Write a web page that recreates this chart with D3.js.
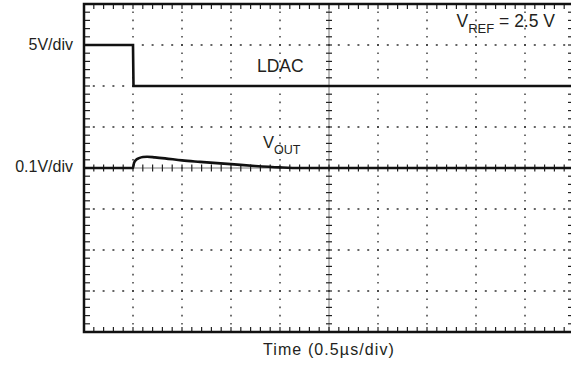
<!DOCTYPE html>
<html>
<head>
<meta charset="utf-8">
<script src="https://cdn.jsdelivr.net/npm/d3@7"></script>
<style>
  body { margin: 0; background: #fff; }
  text { font-family: "Liberation Sans", Arial, Helvetica, sans-serif; fill: #231f20; }
</style>
</head>
<body>
<svg id="scope" width="571" height="373"></svg>
<script>
// time axis in microseconds (0.5 us/div, 10 div), LDAC in volts, VOUT in mV
var ldacTime  = [0, 0.5, 0.505, 5];
var ldacVolts = [5, 5, 0, 0];
var voutTime  = [0, 0.5, 0.51, 0.531, 0.561, 0.602, 0.643, 0.724, 0.827, 1.0, 1.184, 1.5, 1.745, 2.0, 2.204, 5];
var voutMv    = [0, 0, 12, 20, 24, 27, 27.5, 26, 23.5, 18.5, 15, 9.5, 5, 1.5, 0, 0];
var yLabels   = ["5V/div", "0.1V/div"];

var margin = { top: 4, left: 84 };
var divW = 49, divH = 41;
var nx = 10, ny = 8;
var width = nx * divW, height = ny * divH;

var svg = d3.select("#scope");

var x = d3.scaleLinear().domain([0, 5]).range([margin.left, margin.left + width]);
var yLdac = d3.scaleLinear().domain([-30, 10]).range([margin.top + height, margin.top]);
var yVout = d3.scaleLinear().domain([-400, 400]).range([margin.top + height, margin.top]);
var gx = d3.scaleLinear().domain([0, nx]).range([margin.left, margin.left + width]);
var gy = d3.scaleLinear().domain([0, ny]).range([margin.top, margin.top + height]);

var grid = svg.append("g").attr("class", "grid");

// dotted divisions (centre ones are drawn as axes)
grid.selectAll(".vgrid")
  .data(d3.range(1, nx).filter(i => i != nx / 2))
  .enter().append("line")
  .attr("x1", d => gx(d)).attr("x2", d => gx(d))
  .attr("y1", gy(0)).attr("y2", gy(ny))
  .attr("stroke", "#333").attr("stroke-width", 1.4)
  .attr("stroke-dasharray", "1.6 " + (divH / 5 - 1.6))
  .attr("stroke-dashoffset", 0.8);

grid.selectAll(".hgrid")
  .data(d3.range(1, ny).filter(j => j != ny / 2))
  .enter().append("line")
  .attr("y1", d => gy(d)).attr("y2", d => gy(d))
  .attr("x1", gx(0)).attr("x2", gx(nx))
  .attr("stroke", "#333").attr("stroke-width", 1.4)
  .attr("stroke-dasharray", "2 " + (divW / 5 - 2))
  .attr("stroke-dashoffset", 1);

// centre axes with minor ticks
var cx = gx(nx / 2), cy = gy(ny / 2);
grid.append("line")
  .attr("x1", cx).attr("x2", cx).attr("y1", gy(0)).attr("y2", gy(ny))
  .attr("stroke", "#555").attr("stroke-width", 0.8);
grid.append("line")
  .attr("y1", cy).attr("y2", cy).attr("x1", gx(0)).attr("x2", gx(nx))
  .attr("stroke", "#555").attr("stroke-width", 0.8);

var minorX = d3.range(1, nx * 5);
var minorY = d3.range(1, ny * 5);

grid.selectAll(".cxtick").data(minorY).enter().append("line")
  .attr("x1", cx - 3).attr("x2", cx + 3)
  .attr("y1", d => gy(d / 5)).attr("y2", d => gy(d / 5))
  .attr("stroke", "#222").attr("stroke-width", 1.2);
grid.selectAll(".cytick").data(minorX).enter().append("line")
  .attr("y1", cy - 3.5).attr("y2", cy + 3.5)
  .attr("x1", d => gx(d / 5)).attr("x2", d => gx(d / 5))
  .attr("stroke", "#222").attr("stroke-width", 1.2);

// frame ticks, pointing inwards
var frame = svg.append("g").attr("class", "frame");
frame.selectAll(".ttick").data(minorX).enter().append("line")
  .attr("x1", d => gx(d / 5)).attr("x2", d => gx(d / 5))
  .attr("y1", gy(0)).attr("y2", gy(0) + 5)
  .attr("stroke", "#222").attr("stroke-width", 1.2);
frame.selectAll(".btick").data(minorX).enter().append("line")
  .attr("x1", d => gx(d / 5)).attr("x2", d => gx(d / 5))
  .attr("y1", gy(ny)).attr("y2", gy(ny) - 5)
  .attr("stroke", "#222").attr("stroke-width", 1.2);
frame.selectAll(".ltick").data(minorY).enter().append("line")
  .attr("y1", d => gy(d / 5)).attr("y2", d => gy(d / 5))
  .attr("x1", gx(0)).attr("x2", gx(0) + 6)
  .attr("stroke", "#222").attr("stroke-width", 1.2);
frame.selectAll(".rtick").data(minorY).enter().append("line")
  .attr("y1", d => gy(d / 5)).attr("y2", d => gy(d / 5))
  .attr("x1", gx(nx)).attr("x2", gx(nx) - 6)
  .attr("stroke", "#222").attr("stroke-width", 1.2);

frame.append("rect")
  .attr("x", gx(0)).attr("y", gy(0))
  .attr("width", width).attr("height", height)
  .attr("fill", "none").attr("stroke", "#111").attr("stroke-width", 2.5);

// traces
var ldacLine = d3.line()
  .x((d, i) => x(ldacTime[i]))
  .y(d => yLdac(d));

svg.append("path")
  .datum(ldacVolts)
  .attr("d", ldacLine)
  .attr("fill", "none").attr("stroke", "#111").attr("stroke-width", 2.6);

var voutLine = d3.line()
  .x((d, i) => x(voutTime[i]))
  .y(d => yVout(d))
  .curve(d3.curveMonotoneX);

svg.append("path")
  .datum(voutMv)
  .attr("d", voutLine)
  .attr("fill", "none").attr("stroke", "#111").attr("stroke-width", 2.6);

// labels
svg.append("text")
  .attr("x", 73).attr("y", yLdac(5) + 5)
  .attr("text-anchor", "end").style("font-size", "16px")
  .text(yLabels[0]);
svg.append("text")
  .attr("x", 73).attr("y", yVout(0) + 4)
  .attr("text-anchor", "end").style("font-size", "16px")
  .text(yLabels[1]);

svg.append("text")
  .attr("x", 257).attr("y", 72)
  .style("font-size", "17.5px")
  .text("LDAC");

var vout = svg.append("text")
  .attr("x", 263).attr("y", 148)
  .style("font-size", "16.5px");
vout.append("tspan").text("V");
vout.append("tspan").attr("dy", 6).style("font-size", "12.5px").text("OUT");

var vref = svg.append("text")
  .attr("x", 555).attr("y", 27)
  .attr("text-anchor", "end")
  .style("font-size", "17.5px");
vref.append("tspan").text("V");
vref.append("tspan").attr("dy", 6).style("font-size", "13px").text("REF");
vref.append("tspan").attr("dy", -6).text(" = 2.5 V");

svg.append("text")
  .attr("x", cx).attr("y", 355)
  .attr("text-anchor", "middle")
  .style("font-size", "16px")
  .style("letter-spacing", "1.1px")
  .text("Time (0.5\u00b5s/div)");
</script>
</body>
</html>
